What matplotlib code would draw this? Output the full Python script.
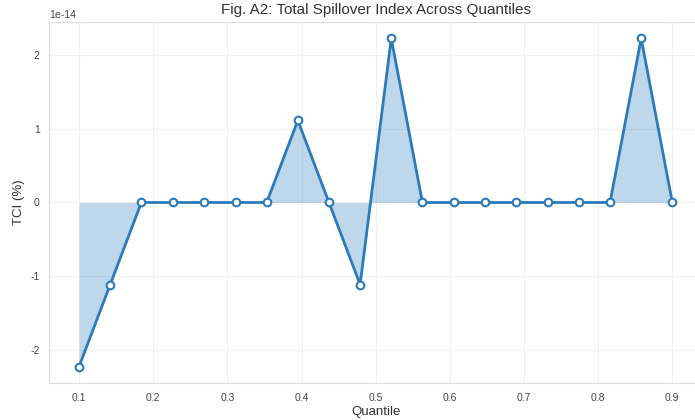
#!/usr/bin/env python3
"""
Fig. A2: total spillover index (TCI) across quantiles.
"""

import matplotlib
matplotlib.use("Agg")
import matplotlib.pyplot as plt
import seaborn as sns

# quantile grid and TCI values
quantiles = [0.100, 0.142, 0.184, 0.226, 0.268, 0.311, 0.353, 0.395, 0.437, 0.479,
             0.521, 0.563, 0.605, 0.647, 0.689, 0.732, 0.774, 0.816, 0.858, 0.900]
tci = [-2.22e-14, -1.11e-14, 0.0, 0.0, 0.0, 0.0, 0.0, 1.11e-14, 0.0, -1.11e-14,
       2.22e-14, 0.0, 0.0, 0.0, 0.0, 0.0, 0.0, 0.0, 2.22e-14, 0.0]
x_ticks = [0.1, 0.2, 0.3, 0.4, 0.5, 0.6, 0.7, 0.8, 0.9]
y_ticks = [-2e-14, -1e-14, 0.0, 1e-14, 2e-14]

line_color = "#2b7bba"

sns.set_style("whitegrid")
plt.rcParams["font.family"] = ["Liberation Sans", "DejaVu Sans"]
plt.rcParams["axes.unicode_minus"] = False

fig = plt.figure(figsize=(6.95, 4.2), dpi=100)
ax = fig.add_axes([49.4 / 695, 37 / 420, 652.6 / 695, 361 / 420])

ax.fill_between(quantiles, tci, 0, color=line_color, alpha=0.3, linewidth=0)
ax.plot(quantiles, tci, color=line_color, linewidth=2, marker="o", markersize=5.5,
        markerfacecolor="white", markeredgecolor=line_color, markeredgewidth=1.5)

ax.set_xticks(x_ticks)
ax.set_yticks(y_ticks)
ax.set_title("Fig. A2: Total Spillover Index Across Quantiles", fontsize=11, color="#333333", pad=6)
ax.set_xlabel("Quantile", fontsize=9.5, color="#333333", labelpad=2)
ax.set_ylabel("TCI (%)", fontsize=9.5, color="#333333")
ax.tick_params(labelsize=7.5, colors="#444444")
ax.yaxis.get_offset_text().set_fontsize(7.5)
ax.yaxis.get_offset_text().set_color("#444444")
ax.grid(True, color="#f0f0f0", linewidth=0.8)
for s in ax.spines.values():
  s.set_color("#dddddd")

plt.savefig("out.png", dpi=100)
